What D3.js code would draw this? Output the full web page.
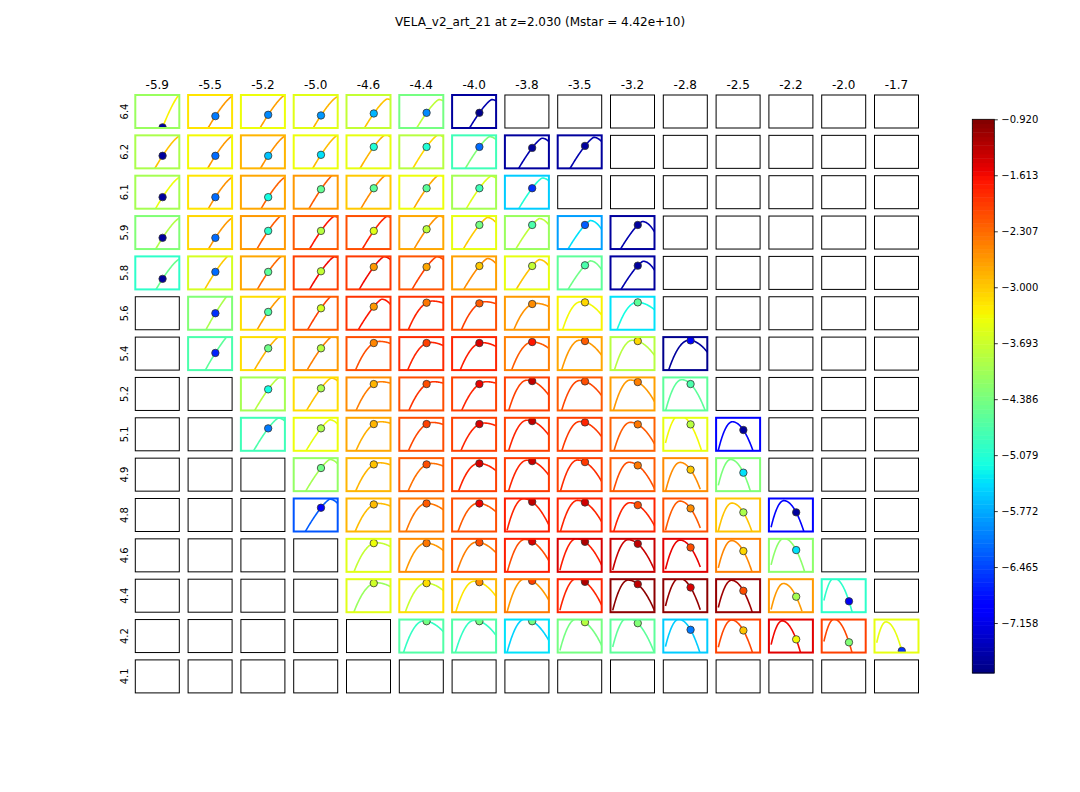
<!DOCTYPE html>
<html><head><meta charset="utf-8">
<script src="https://cdn.jsdelivr.net/npm/d3@7"></script>
<style>body{margin:0;background:#fff;} svg{display:block;} text{font-family:"DejaVu Sans",sans-serif;fill:#000;}</style>
</head><body><svg id="chart" width="1080" height="792"></svg>
<script>
const N = null;
const title = "VELA_v2_art_21 at z=2.030 (Mstar = 4.42e+10)";
const colLabels = ["-5.9","-5.5","-5.2","-5.0","-4.6","-4.4","-4.0","-3.8","-3.5","-3.2","-2.8","-2.5","-2.2","-2.0","-1.7"];
const rowLabels = ["6.4","6.2","6.1","5.9","5.8","5.6","5.4","5.2","5.1","4.9","4.8","4.6","4.4","4.2","4.1"];
const cbTicks = [-0.920,-1.613,-2.307,-3.000,-3.693,-4.386,-5.079,-5.772,-6.465,-7.158];
const cbDomain = [-7.777, -0.92];
const dotX = 0.62;

// colour value of each panel frame (null = empty panel)
const borderValue = [
 [-4.1,-3.2,-3.4,-3.5,-3.75,-4.4,-7.6,N,N,N,N,N,N,N,N],
 [-3.95,-3.35,-2.85,-3.4,-3.45,-3.85,-4.85,-7.6,-7.6,N,N,N,N,N,N],
 [-4.0,-3.2,-2.75,-2.65,-3.0,-3.4,-4.0,-5.55,N,N,N,N,N,N,N],
 [-4.3,-3.1,-2.65,-2.2,-2.1,-2.75,-3.45,-4.1,-5.85,-7.6,N,N,N,N,N],
 [-5.0,-3.6,-2.75,-2.0,-1.95,-2.15,-2.7,-3.45,-4.6,-7.6,N,N,N,N,N],
 [N,-4.3,-3.15,-2.2,-1.9,-1.9,-2.1,-2.65,-3.3,-5.4,N,N,N,N,N],
 [N,-4.75,-3.15,-2.65,-2.1,-1.85,-1.8,-2.45,-2.75,-3.85,-7.7,N,N,N,N],
 [N,N,-4.0,-3.15,-2.55,-2.1,-2.0,-2.0,-2.2,-2.7,-4.6,N,N,N,N],
 [N,N,-4.85,-3.4,-2.75,-2.1,-2.0,-2.0,-2.0,-2.25,-3.45,-6.95,N,N,N],
 [N,N,N,-4.15,-2.85,-2.2,-2.0,-1.95,-2.0,-2.2,-2.55,-4.3,N,N,N],
 [N,N,N,-6.35,-2.85,-2.4,-2.1,-1.75,-1.8,-1.8,-2.1,-2.95,-7.0,N,N],
 [N,N,N,N,-3.5,-2.55,-2.1,-1.75,-1.45,-1.35,-1.5,-2.45,-4.2,N,N],
 [N,N,N,N,-3.5,-3.15,-2.85,-2.4,-1.8,-1.0,-1.0,-1.05,-2.65,-5.0,N],
 [N,N,N,N,N,-4.7,-4.7,-5.4,-4.4,-4.6,-5.55,-2.0,-1.5,-2.0,-3.45],
 [N,N,N,N,N,N,N,N,N,N,N,N,N,N,N]
];
// colour value of each curve
const curveValue = [
 [-3.3,-2.65,-2.7,-2.85,-2.95,-3.8,-7.5,N,N,N,N,N,N,N,N],
 [-2.95,-2.65,-2.6,-2.9,-2.85,-3.1,-4.3,-7.5,-7.5,N,N,N,N,N,N],
 [-3.4,-2.6,-2.25,-2.2,-2.55,-2.75,-3.5,-5.1,N,N,N,N,N,N,N],
 [-3.9,-2.65,-2.2,-1.7,-1.8,-2.6,-3.0,-3.8,-5.4,-7.5,N,N,N,N,N],
 [-4.5,-3.0,-2.3,-1.6,-1.6,-2.0,-2.55,-2.95,-4.45,-7.5,N,N,N,N,N],
 [N,-3.95,-2.65,-2.0,-1.7,-1.8,-2.0,-2.6,-3.35,-5.2,N,N,N,N,N],
 [N,-4.6,-2.85,-2.45,-2.1,-1.8,-1.75,-2.2,-2.65,-3.85,-7.6,N,N,N,N],
 [N,N,-3.85,-2.95,-2.45,-1.9,-1.8,-2.0,-2.05,-2.65,-4.6,N,N,N,N],
 [N,N,-4.75,-3.45,-2.8,-2.05,-1.8,-1.8,-1.95,-2.2,-3.35,-7.0,N,N,N],
 [N,N,N,-4.0,-2.85,-2.35,-1.8,-1.8,-1.85,-2.1,-2.55,-4.35,N,N,N],
 [N,N,N,-6.3,-2.9,-2.4,-2.2,-1.8,-1.8,-1.8,-2.2,-2.95,-7.0,N,N],
 [N,N,N,N,-3.75,-2.65,-2.45,-2.1,-1.75,-1.35,-1.55,-2.5,-4.2,N,N],
 [N,N,N,N,-4.1,-3.7,-3.2,-2.65,-1.8,-1.0,-1.05,-1.1,-2.65,-5.0,N],
 [N,N,N,N,N,-4.95,-4.95,-5.5,-4.4,-4.6,-5.55,-2.05,-1.6,-2.05,-3.45],
 [N,N,N,N,N,N,N,N,N,N,N,N,N,N,N]
];
// colour value of each marker
const dotValue = [
 [-7.6,-6.1,-6.0,-5.9,-5.7,-6.0,-7.7,N,N,N,N,N,N,N,N],
 [-7.6,-6.2,-5.6,-5.4,-5.1,-5.1,-6.2,-7.6,-7.6,N,N,N,N,N,N],
 [-7.6,-6.2,-5.2,-4.55,-4.6,-4.6,-4.85,-6.6,N,N,N,N,N,N,N],
 [-7.6,-6.2,-5.0,-3.85,-3.5,-3.8,-4.4,-4.75,-6.3,-7.6,N,N,N,N,N],
 [-7.6,-6.2,-4.6,-3.75,-2.65,-2.75,-3.0,-3.75,-4.75,-7.6,N,N,N,N,N],
 [N,-6.6,-4.7,-3.6,-2.65,-2.4,-2.2,-2.55,-3.1,-4.6,N,N,N,N,N],
 [N,-6.7,-4.45,-3.85,-2.5,-2.0,-1.45,-1.7,-2.2,-3.1,-7.0,N,N,N,N],
 [N,N,-5.2,-3.95,-2.85,-2.1,-1.55,-1.3,-2.1,-2.45,-4.75,N,N,N,N],
 [N,N,-6.1,-3.95,-2.85,-2.0,-1.45,-1.3,-1.8,-2.4,-3.85,-7.6,N,N,N],
 [N,N,N,-4.45,-2.95,-2.1,-1.4,-1.35,-1.95,-2.4,-3.0,-5.4,N,N,N],
 [N,N,N,-7.0,-2.9,-2.2,-1.55,-1.3,-1.4,-2.1,-2.55,-3.95,-7.6,N,N],
 [N,N,N,N,-3.4,-2.4,-2.1,-1.45,-1.2,-1.3,-2.1,-3.1,-5.4,N,N],
 [N,N,N,N,-3.65,-3.15,-2.55,-2.0,-1.2,-1.3,-1.45,-2.1,-4.0,-7.1,N],
 [N,N,N,N,N,-4.4,-4.4,-4.4,-3.85,-4.3,-6.1,-2.95,-3.35,-4.3,-6.6],
 [N,N,N,N,N,N,N,N,N,N,N,N,N,N,N]
];
// marker height inside each panel (0 = bottom, 1 = top)
const dotLevel = [
 [.02,.36,.40,.38,.44,.46,.46,N,N,N,N,N,N,N,N],
 [.38,.38,.38,.41,.65,.65,.65,.62,.68,N,N,N,N,N,N],
 [.35,.35,.35,.59,.62,.62,.62,.62,N,N,N,N,N,N,N],
 [.34,.34,.55,.55,.55,.60,.73,.73,.73,.73,N,N,N,N,N],
 [.32,.53,.53,.55,.68,.68,.71,.71,.73,.72,N,N,N,N,N],
 [N,.50,.54,.65,.70,.82,.80,.78,.83,.83,N,N,N,N,N],
 [N,.52,.66,.66,.82,.82,.82,.85,.88,.88,.90,N,N,N,N],
 [N,N,.64,.67,.80,.80,.80,.89,.88,.86,.80,N,N,N,N],
 [N,N,.68,.68,.81,.81,.81,.90,.86,.80,.80,.63,N,N,N],
 [N,N,N,.70,.81,.81,.84,.91,.88,.78,.65,.56,N,N,N],
 [N,N,N,.72,.82,.85,.85,.90,.88,.80,.70,.58,.58,N,N],
 [N,N,N,N,.87,.87,.89,.92,.91,.85,.74,.63,.66,N,N],
 [N,N,N,N,.88,.88,.91,.95,.92,.85,.75,.65,.47,.33,N],
 [N,N,N,N,N,.95,.95,.95,.92,.89,.69,.67,.40,.31,.05],
 [N,N,N,N,N,N,N,N,N,N,N,N,N,N,N]
];
// horizontal position of each curve's peak
const peakX = [
 [1.0,1.0,1.0,.98,.92,.90,.90,N,N,N,N,N,N,N,N],
 [1.0,1.0,1.0,1.0,.88,.88,.85,.84,.82,N,N,N,N,N,N],
 [1.0,1.0,1.0,.95,.90,.90,.88,.85,N,N,N,N,N,N,N],
 [1.0,1.0,.95,.92,.92,.90,.80,.78,.74,.72,N,N,N,N,N],
 [1.0,.98,.95,.92,.85,.85,.80,.78,.74,.74,N,N,N,N,N],
 [N,1.1,.95,.92,.80,.75,.75,.70,.52,.60,N,N,N,N,N],
 [N,1.05,.88,.88,.75,.70,.68,.62,.50,.50,.58,N,N,N,N],
 [N,N,.88,.85,.78,.78,.78,.50,.50,.45,.42,N,N,N,N],
 [N,N,.85,.82,.78,.75,.72,.50,.50,.45,.36,.37,N,N,N],
 [N,N,N,.82,.75,.72,.60,.50,.45,.42,.38,.33,N,N,N],
 [N,N,N,.82,.72,.62,.58,.42,.45,.44,.38,.36,.34,N,N],
 [N,N,N,N,.68,.60,.55,.45,.42,.40,.38,.35,.34,N,N],
 [N,N,N,N,.68,.60,.50,.45,.42,.40,.36,.35,.33,.28,N],
 [N,N,N,N,N,.55,.50,.45,.42,.38,.35,.35,.30,.28,.26],
 [N,N,N,N,N,N,N,N,N,N,N,N,N,N,N]
];
// [row, col, x where the curve stops]
const curveEnds = [[8,11,.84],[9,10,.84],[10,10,.84],[10,11,.84],[10,12,.85],
  [11,10,.84],[11,11,.84],[11,12,.85],[12,10,.84],[12,11,.84],[12,12,.75],[12,13,.75],
  [13,10,.84],[13,11,.84],[13,12,.74],[13,13,.75],[13,14,.70]];
// [row, col, steepness factor]
const steepCells = [[0,0,1.64]];

// ---- jet colormap ----
const jetR = d3.scaleLinear().domain([0,0.35,0.66,0.89,1]).range([0,0,1,1,0.5]).clamp(true);
const jetG = d3.scaleLinear().domain([0,0.125,0.375,0.64,0.91,1]).range([0,0,1,1,0,0]).clamp(true);
const jetB = d3.scaleLinear().domain([0,0.11,0.34,0.65,1]).range([0.5,1,1,0,0]).clamp(true);
const norm = d3.scaleLinear().domain(cbDomain).range([0,1]).clamp(true);
const jet = v => { const t = norm(v); return d3.rgb(jetR(t)*255, jetG(t)*255, jetB(t)*255).formatHex(); };

const svg = d3.select("#chart");
const colBand = d3.scaleBand().domain(colLabels).range([135.3, 918.5]).paddingInner(8.8/52.8).paddingOuter(0);
const rowBand = d3.scaleBand().domain(rowLabels).range([95, 692.9]).paddingInner(7.35/40.35).paddingOuter(0);
const cw = colBand.bandwidth(), ch = rowBand.bandwidth();

svg.append("text").attr("x", 540).attr("y", 26).attr("text-anchor","middle").attr("font-size",12).text(title);

colLabels.forEach(cl => {
  svg.append("text").attr("x", colBand(cl) + cw/2).attr("y", 89).attr("text-anchor","middle")
    .attr("font-size",12).text(cl);
});
rowLabels.forEach(rl => {
  svg.append("text").attr("transform", `translate(128,${rowBand(rl)+ch/2}) rotate(-90)`)
    .attr("text-anchor","middle").attr("font-size",10).text(rl);
});

function dropFn(r, c, px) {
  const st = steepCells.find(d => d[0]===r && d[1]===c);
  const s = st ? st[2] : 1;
  if (r <= 4 || px >= 0.8) {
    return dx => dx < 0 ? 2.1*s*Math.pow(-dx,1.3) : 4*dx*dx;
  }
  const kL = 1.9/Math.pow(px,1.5), kR = (c >= 10 ? 0.9 : 0.65)/Math.pow(px,1.5);
  return dx => dx < 0 ? kL*dx*dx : kR*dx*dx;
}

const defs = svg.append("defs");
rowLabels.forEach((rl, r) => {
  colLabels.forEach((cl, c) => {
    const x0 = colBand(cl), y0 = rowBand(rl);
    const bv = borderValue[r][c];
    const g = svg.append("g");
    if (bv == null) {
      g.append("rect").attr("x",x0).attr("y",y0).attr("width",cw).attr("height",ch)
        .attr("fill","none").attr("stroke","#000").attr("stroke-width",1);
      return;
    }
    const xs = d3.scaleLinear().domain([0,1]).range([x0, x0+cw]);
    const ys = d3.scaleLinear().domain([0,1]).range([y0+ch, y0]);
    const id = `clip-${r}-${c}`;
    defs.append("clipPath").attr("id", id).append("rect").attr("x",x0).attr("y",y0).attr("width",cw).attr("height",ch);
    const px = peakX[r][c];
    const drop = dropFn(r, c, px);
    const lvl = dotLevel[r][c];
    const pY = lvl + drop(dotX - px);
    const ce = curveEnds.find(d => d[0]===r && d[1]===c);
    const end = ce ? ce[2] : 1.0;
    const xsSample = d3.range(0.05, end, 0.01).concat([end]);
    const pts = xsSample.map(x => [x, pY - drop(x - px)]);
    const line = d3.line().x(d => xs(d[0])).y(d => ys(Math.max(d[1], -2)));
    g.append("path").attr("clip-path", `url(#${id})`).attr("d", line(pts))
      .attr("fill","none").attr("stroke", jet(curveValue[r][c])).attr("stroke-width",1.6);
    g.append("circle").attr("clip-path", `url(#${id})`).attr("cx", xs(dotX)).attr("cy", ys(lvl)).attr("r",3.7)
      .attr("fill", jet(dotValue[r][c])).attr("stroke","#333").attr("stroke-width",0.8);
    g.append("rect").attr("x",x0).attr("y",y0).attr("width",cw).attr("height",ch)
      .attr("fill","none").attr("stroke", jet(bv)).attr("stroke-width",2);
  });
});

// ---- colorbar ----
const cbX = 972.3, cbW = 22;
const cbScale = d3.scaleLinear().domain(cbDomain).range([673, 119.3]);
const nSteps = 128;
const span = cbDomain[1]-cbDomain[0];
const cb = svg.append("g");
d3.range(nSteps).forEach(i => {
  const v0 = cbDomain[0] + i*span/nSteps, v1 = cbDomain[0] + (i+1)*span/nSteps;
  cb.append("rect").attr("x", cbX).attr("width", cbW)
    .attr("y", cbScale(v1)).attr("height", cbScale(v0)-cbScale(v1)+0.5)
    .attr("fill", jet((v0+v1)/2));
});
cb.append("rect").attr("x", cbX).attr("y", cbScale(cbDomain[1])).attr("width", cbW)
  .attr("height", cbScale(cbDomain[0])-cbScale(cbDomain[1])).attr("fill","none").attr("stroke","#000").attr("stroke-width",0.8);
const axis = d3.axisRight(cbScale).tickValues(cbTicks).tickSize(3.5).tickPadding(3.5).tickFormat(d3.format(".3f"));
const ag = svg.append("g").attr("transform", `translate(${cbX+cbW},0)`).call(axis);
ag.select(".domain").remove();
ag.selectAll("text").attr("font-size",10).attr("font-family","DejaVu Sans, sans-serif").attr("fill","#000");
ag.selectAll("line").attr("stroke","#000").attr("stroke-width",0.8);
</script>
</body></html>
